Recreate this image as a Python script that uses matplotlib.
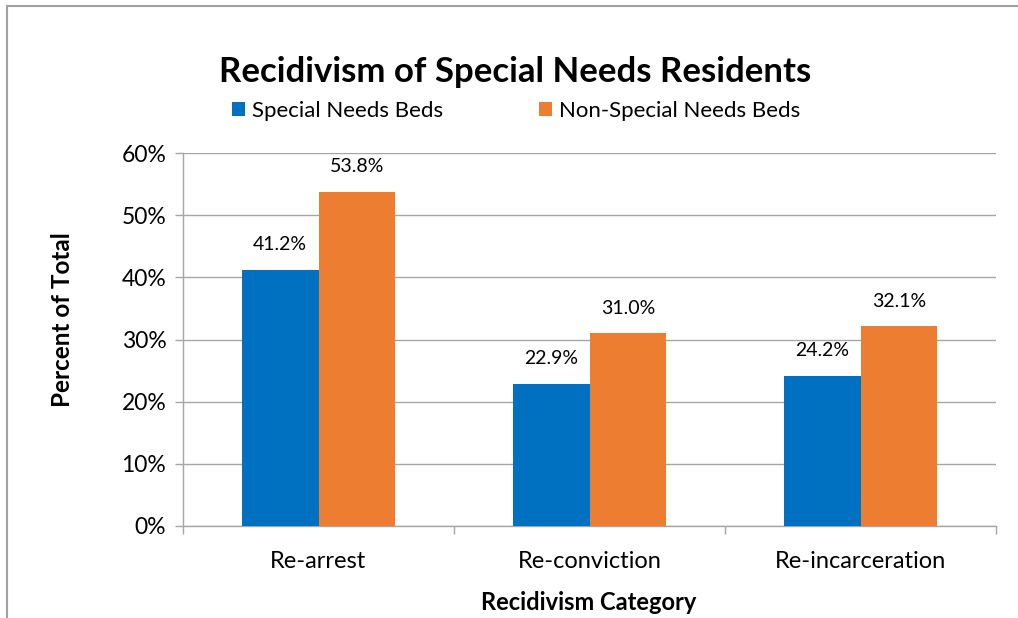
import matplotlib.pyplot as plt
from matplotlib.lines import Line2D
import numpy as np

plt.rcParams['font.family'] = ['Lato', 'DejaVu Sans']

categories = ['Re-arrest', 'Re-conviction', 'Re-incarceration']
special_needs = [41.2, 22.9, 24.2]
non_special_needs = [53.8, 31.0, 32.1]
series_names = ['Special Needs Beds', 'Non-Special Needs Beds']
y_ticks = [0, 10, 20, 30, 40, 50, 60]

BLUE = '#0070C0'
ORANGE = '#ED7D31'
GRID = '#A6A6A6'

W, H = 1018, 618
fig = plt.figure(figsize=(W / 100, H / 100), dpi=100)

# plot area in pixel terms from the reference
left, right, top, bottom = 183, 996, 153, 526
ax = fig.add_axes([left / W, 1 - bottom / H, (right - left) / W, (bottom - top) / H])

x = np.arange(len(categories))
width = 0.284
b1 = ax.bar(x - width / 2, special_needs, width, color=BLUE, label=series_names[0], zorder=3)
b2 = ax.bar(x + width / 2, non_special_needs, width, color=ORANGE, label=series_names[1], zorder=3)

for rects, vals in [(b1, special_needs), (b2, non_special_needs)]:
    for rect, v in zip(rects, vals):
        ax.annotate(f'{v:.1f}%',
                    xy=(rect.get_x() + rect.get_width() / 2, rect.get_height()),
                    xytext=(0, 12), textcoords='offset points',
                    ha='center', va='bottom', fontsize=14, color='#000000')

ax.set_xlim(-0.5, len(categories) - 0.5)
ax.set_ylim(0, 60)
ax.set_yticks(y_ticks)
ax.set_yticklabels([f'{t}%' for t in y_ticks], fontsize=16.5)
ax.set_xticks(x)
ax.set_xticklabels(categories, fontsize=17)
ax.set_xticks(np.arange(len(categories) + 1) - 0.5, minor=True)

ax.tick_params(axis='x', which='major', length=0, pad=18)
ax.tick_params(axis='x', which='minor', length=6, width=1.0, color=GRID)
ax.tick_params(axis='y', length=6, width=1.0, color=GRID, pad=6)

ax.grid(axis='y', color=GRID, linewidth=1.0, zorder=0)
ax.set_axisbelow(True)
for s in ['top', 'right']:
    ax.spines[s].set_visible(False)
for s in ['left', 'bottom']:
    ax.spines[s].set_color(GRID)
    ax.spines[s].set_linewidth(1.0)

fig.text(515 / W, 1 - 82 / H, 'Recidivism of Special Needs Residents',
         ha='center', va='baseline', fontsize=25, fontweight='bold')
fig.legend(handles=[b1, b2], loc='center', bbox_to_anchor=(516 / W, 1 - 111 / H),
           ncol=2, frameon=False, fontsize=16, handlelength=0.6, handleheight=0.6,
           handletextpad=0.3, columnspacing=4.3)

fig.text(63 / W, 1 - 320 / H, 'Percent of Total', rotation=90,
         ha='center', va='center', fontsize=17.5, fontweight='bold')
fig.text(589 / W, 1 - 603 / H, 'Recidivism Category',
         ha='center', va='center', fontsize=17, fontweight='bold')

# chart frame (top and left edges visible in the reference)
fig.add_artist(Line2D([7 / W, 1], [1 - 6 / H, 1 - 6 / H], transform=fig.transFigure,
                      color='#A0A0A0', linewidth=1.5))
fig.add_artist(Line2D([7 / W, 7 / W], [0, 1 - 6 / H], transform=fig.transFigure,
                      color='#A0A0A0', linewidth=1.5))

fig.savefig('out.png', dpi=100)
